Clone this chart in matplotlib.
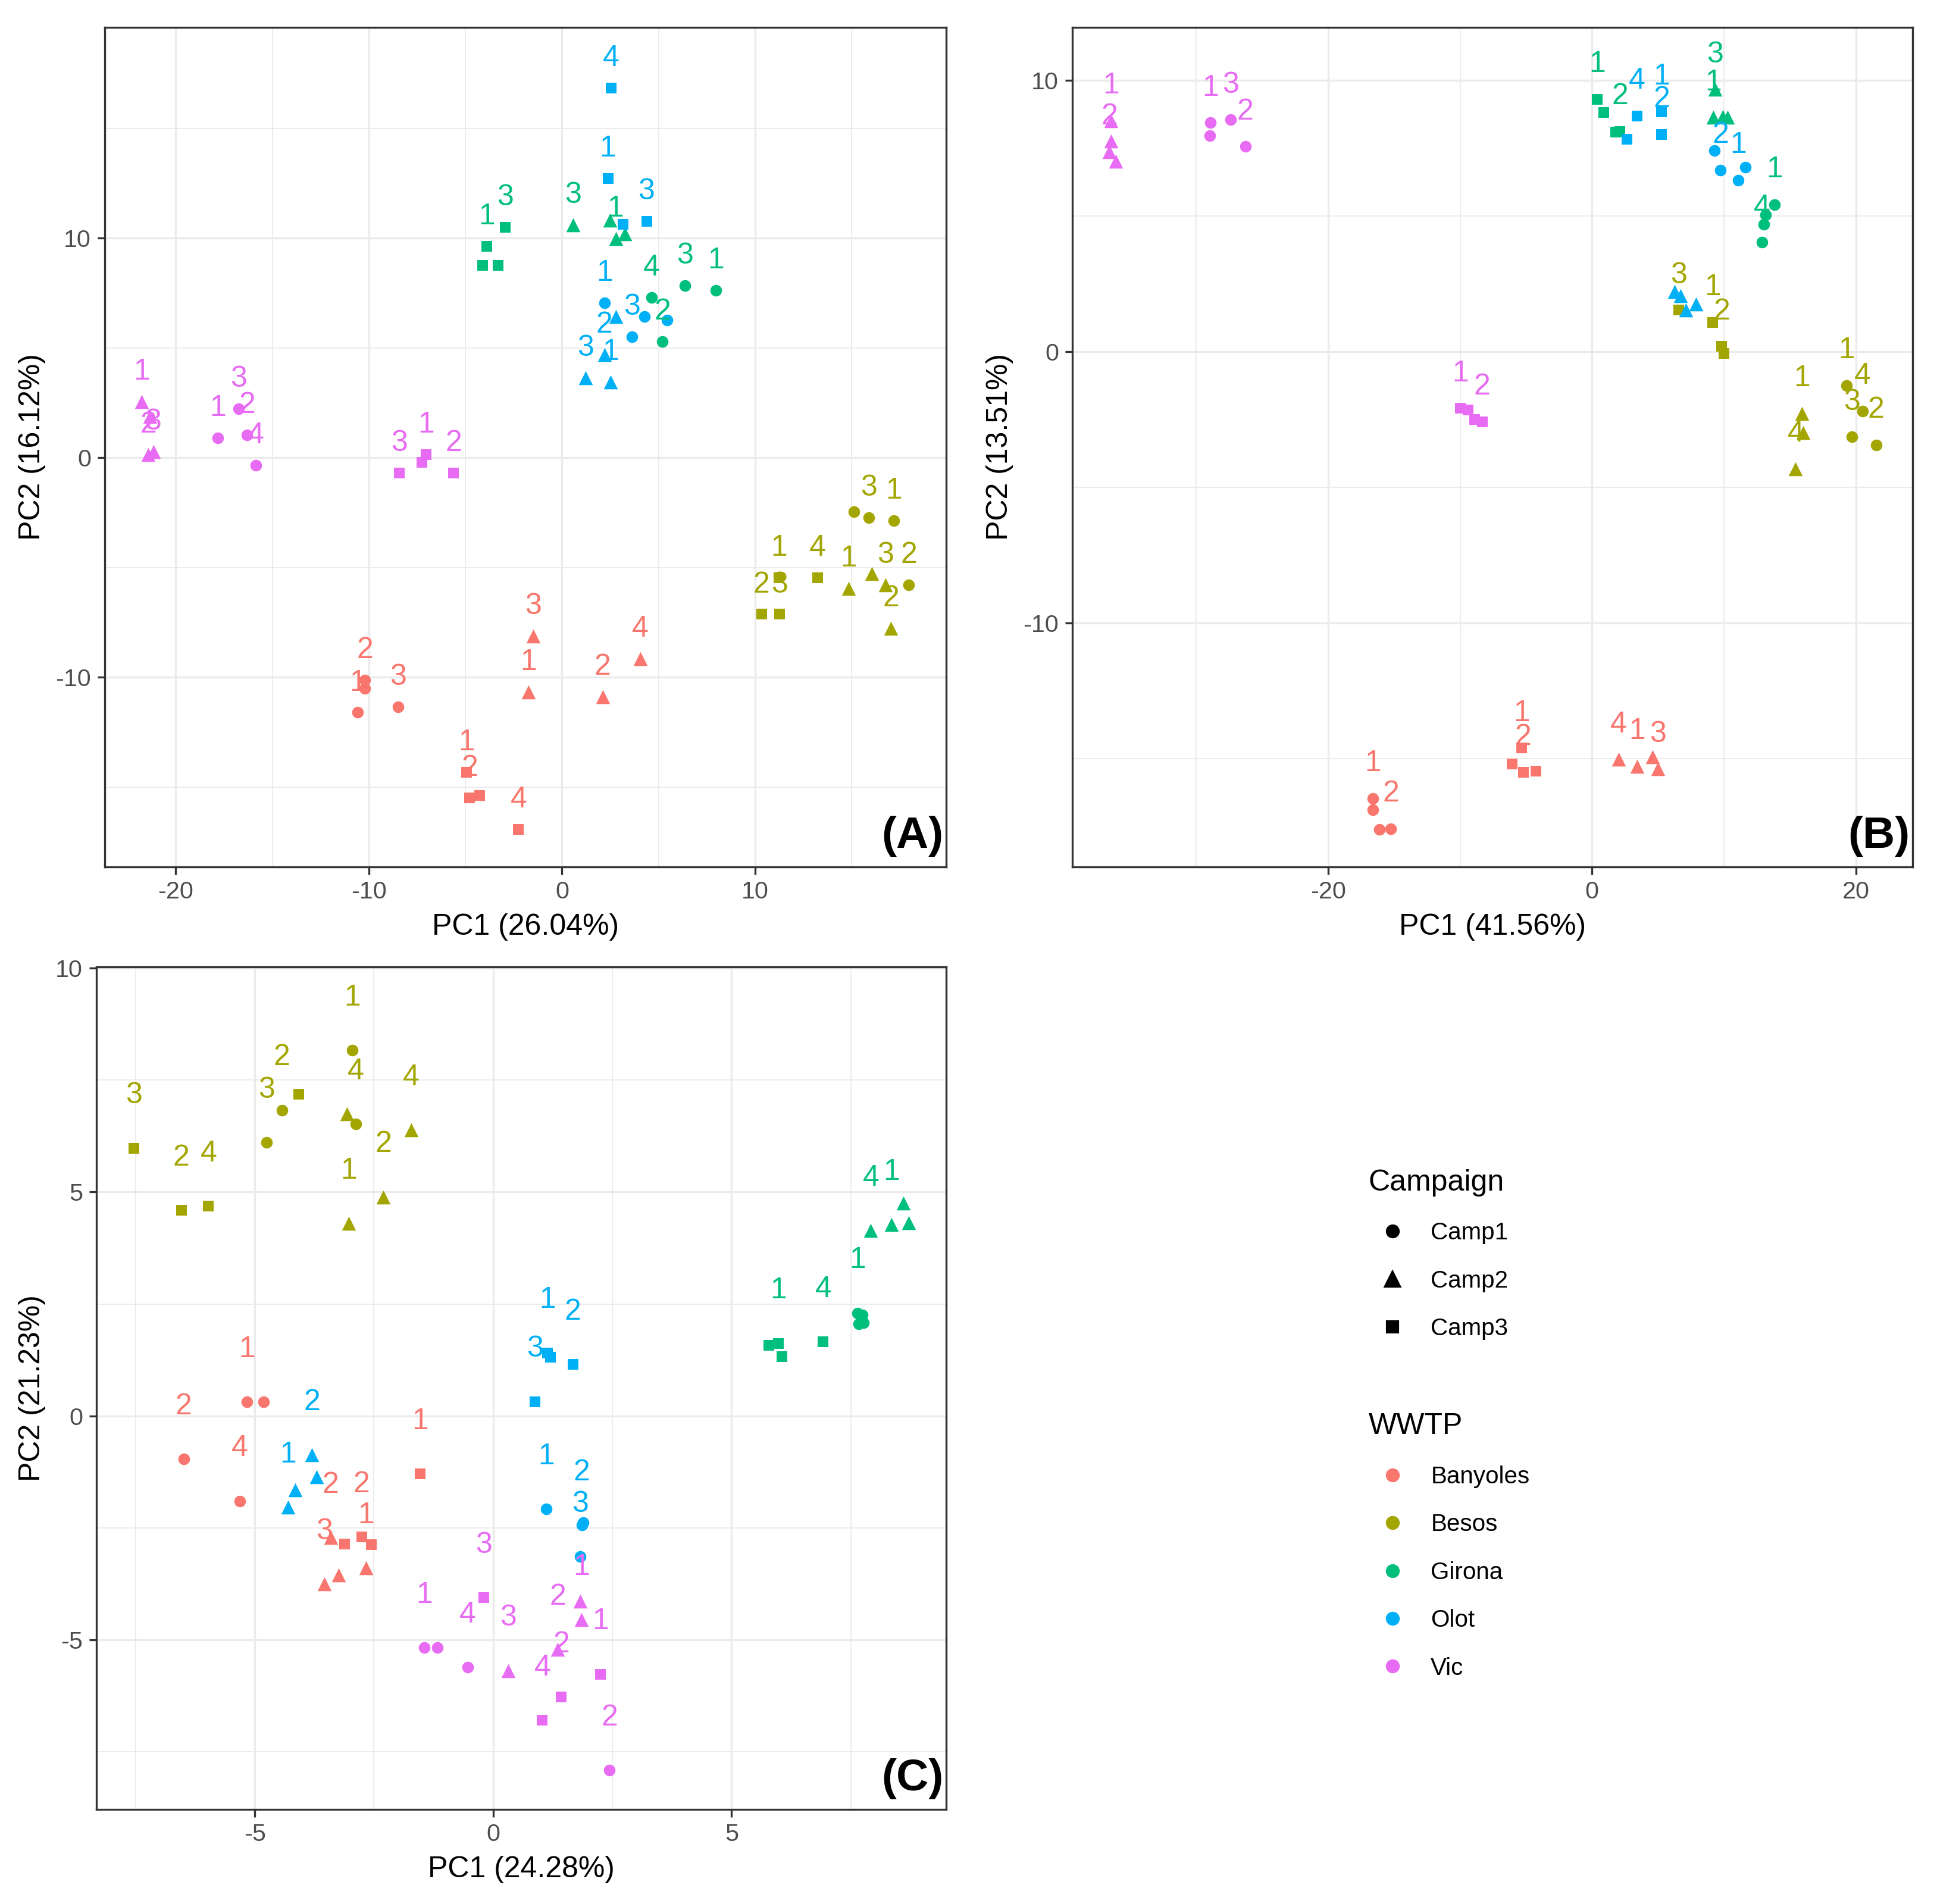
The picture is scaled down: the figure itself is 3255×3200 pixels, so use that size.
import numpy as np
import matplotlib.pyplot as plt
from matplotlib.lines import Line2D

plt.rcParams['font.family'] = ['Liberation Sans', 'DejaVu Sans']
plt.rcParams['axes.unicode_minus'] = False

sites = ['Banyoles', 'Besos', 'Girona', 'Olot', 'Vic']
site_colors = ['#F8766D', '#A3A500', '#00BF7D', '#00B0F6', '#E76BF3']
campaigns = ['Camp1', 'Camp2', 'Camp3']
camp_markers = ['o', '^', 's']

# ---------------- panel A ----------------
a_site = ['Banyoles'] * 12 + ['Besos'] * 12 + ['Girona'] * 12 + ['Olot'] * 12 + ['Vic'] * 12
a_camp = [1, 1, 1, 1, 2, 2, 2, 2, 3, 3, 3, 3,
          1, 1, 1, 1, 2, 2, 2, 2, 3, 3, 3, 3,
          1, 1, 1, 1, 2, 2, 2, 2, 3, 3, 3, 3,
          1, 1, 1, 1, 2, 2, 2, 2, 3, 3, 3, 3,
          1, 1, 1, 1, 2, 2, 2, 2, 3, 3, 3, 3]
a_x = [-10.21, -10.21, -10.58, -8.50, -1.48, -1.74, 2.11, 4.05, -4.94, -4.79, -4.28, -2.25,
       15.12, 15.89, 17.18, 17.97, 16.03, 14.84, 16.75, 17.03, 13.24, 11.24, 10.33, 11.27,
       4.65, 6.38, 7.96, 5.21, 0.57, 2.48, 2.78, 3.26, -3.90, -2.94, -4.11, -3.31,
       2.20, 4.26, 3.63, 5.44, 2.78, 2.20, 1.22, 2.52, 2.55, 2.38, 3.17, 4.38,
       -17.83, -16.74, -16.32, -15.85, -21.76, -21.34, -21.42, -21.17, -8.43, -7.26, -7.04, -5.62]
a_y = [-10.12, -10.51, -11.60, -11.34, -8.11, -10.67, -10.87, -9.15, -14.32, -15.48, -15.37, -16.93,
       -2.47, -2.72, -2.86, -5.78, -5.28, -5.96, -5.78, -7.76, -5.47, -5.47, -7.13, -7.13,
       7.30, 7.84, 7.61, 5.29, 10.59, 10.81, 9.98, 10.19, 9.63, 10.48, 8.77, 8.77,
       7.05, 6.43, 5.50, 6.27, 6.43, 4.69, 3.63, 3.44, 16.84, 12.71, 10.62, 10.77,
       0.90, 2.22, 1.04, -0.35, 2.56, 1.87, 0.14, 0.28, -0.69, -0.21, 0.14, -0.69]
a_lab = ['2', '', '1', '3', '3', '1', '2', '4', '1', '2', '', '4',
         '', '3', '1', '2', '', '1', '3', '2', '4', '1', '2', '3',
         '4', '3', '1', '2', '3', '', '1', '', '1', '3', '', '',
         '1', '', '3', '', '', '2', '3', '1', '4', '1', '', '3',
         '1', '3', '2', '4', '1', '', '2', '3', '3', '', '1', '2']

# ---------------- panel B ----------------
b_site = ['Banyoles'] * 12 + ['Besos'] * 11 + ['Girona'] * 12 + ['Olot'] * 12 + ['Vic'] * 12
b_camp = [1, 1, 1, 1, 2, 2, 2, 2, 3, 3, 3, 3,
          1, 1, 1, 1, 2, 2, 2, 3, 3, 3, 3,
          1, 1, 1, 1, 2, 2, 2, 2, 3, 3, 3, 3,
          1, 1, 1, 1, 2, 2, 2, 2, 3, 3, 3, 3,
          1, 1, 1, 1, 2, 2, 2, 2, 3, 3, 3, 3]
b_x = [-16.63, -16.63, -16.13, -15.25, 2.00, 3.42, 4.58, 5.00, -5.33, -6.04, -5.21, -4.25,
       19.31, 20.52, 19.68, 21.54, 15.90, 16.00, 15.43, 6.57, 9.16, 9.83, 10.00,
       13.85, 13.14, 13.03, 12.90, 9.34, 9.19, 9.92, 10.28, 0.38, 0.87, 1.77, 2.10,
       9.29, 9.74, 11.09, 11.64, 6.24, 6.71, 7.11, 7.89, 3.40, 5.27, 5.27, 2.64,
       -28.92, -29.00, -27.39, -26.28, -36.46, -36.45, -36.58, -36.11, -10.00, -9.38, -8.88, -8.33]
b_y = [-16.47, -16.89, -17.61, -17.59, -15.04, -15.29, -14.95, -15.39, -14.62, -15.21, -15.51, -15.48,
       -1.25, -2.20, -3.15, -3.45, -2.29, -2.99, -4.32, 1.52, 1.07, 0.18, -0.08,
       5.42, 5.03, 4.68, 4.02, 9.66, 8.63, 8.66, 8.63, 9.29, 8.81, 8.09, 8.11,
       7.40, 6.68, 6.31, 6.79, 2.21, 2.05, 1.52, 1.75, 8.68, 8.83, 8.00, 7.82,
       8.43, 7.95, 8.54, 7.55, 8.51, 7.75, 7.36, 7.00, -2.10, -2.15, -2.50, -2.59]
b_lab = ['1', '', '', '2', '4', '1', '', '3', '1', '', '2', '',
         '1', '4', '3', '2', '1', '', '4', '3', '1', '2', '',
         '1', '', '', '4', '3', '1', '', '', '1', '', '', '2',
         '', '2', '1', '', '', '', '', '', '4', '1', '2', '',
         '1', '', '3', '2', '1', '', '2', '', '1', '', '', '2']

# ---------------- panel C ----------------
c_site = ['Banyoles'] * 12 + ['Besos'] * 12 + ['Girona'] * 12 + ['Olot'] * 12 + ['Vic'] * 12
c_camp = a_camp
c_x = [-5.16, -4.82, -6.49, -5.31, -3.41, -3.54, -3.24, -2.67, -3.12, -2.76, -2.55, -1.53,
       -4.43, -4.75, -2.95, -2.88, -3.07, -1.72, -2.30, -3.03, -7.53, -6.54, -5.97, -4.08,
       7.64, 7.74, 7.66, 7.76, 8.60, 7.92, 8.35, 8.71, 5.78, 5.98, 6.05, 6.92,
       1.11, 1.86, 1.89, 1.83, -3.80, -3.70, -4.15, -4.30, 1.14, 1.20, 0.88, 1.67,
       -1.44, -1.17, -0.54, 2.44, 0.32, 1.83, 1.85, 1.35, -0.20, 1.03, 1.43, 2.25]
c_y = [0.31, 0.31, -0.96, -1.90, -2.72, -3.75, -3.56, -3.40, -2.86, -2.70, -2.88, -1.30,
       6.83, 6.11, 8.17, 6.52, 6.74, 6.39, 4.89, 4.30, 5.98, 4.59, 4.68, 7.18,
       2.30, 2.26, 2.05, 2.08, 4.75, 4.14, 4.27, 4.32, 1.57, 1.62, 1.32, 1.65,
       -2.08, -2.44, -2.38, -3.14, -0.87, -1.36, -1.65, -2.04, 1.41, 1.31, 0.32, 1.15,
       -5.18, -5.18, -5.62, -7.91, -5.69, -4.14, -4.55, -5.22, -4.06, -6.80, -6.28, -5.77]
c_lab = ['1', '', '2', '4', '2', '3', '', '1', '', '2', '', '1',
         '2', '3', '1', '4', '', '4', '2', '1', '3', '2', '4', '',
         '1', '', '', '', '', '4', '1', '', '', '1', '', '4',
         '1', '2', '', '3', '2', '', '', '1', '1', '', '3', '2',
         '1', '', '4', '2', '3', '', '1', '2', '3', '4', '2', '1']


def pca_panel(ax, xs, ys, site, camp, labs, xlim, ylim, xmaj, xmin, ymaj, ymin,
              xlabel, ylabel, tag):
    xs = np.array(xs)
    ys = np.array(ys)
    site = np.array(site)
    camp = np.array(camp)
    msize = {'o': 22, '^': 32, 's': 19}
    for s, col in zip(sites, site_colors):
        for c, m in zip([1, 2, 3], camp_markers):
            sel = (site == s) & (camp == c)
            ax.scatter(xs[sel], ys[sel], marker=m, s=msize[m], color=col,
                       linewidths=0, zorder=3)
    # sample numbers sit just above each point (like nudge_y = 1)
    for x, y, s, lab in zip(xs, ys, site, labs):
        if lab:
            ax.text(x, y + 1.0, lab, color=site_colors[sites.index(s)],
                    fontsize=12, ha='center', va='baseline', zorder=4)
    ax.set_xlim(*xlim)
    ax.set_ylim(*ylim)
    ax.set_xticks(xmaj)
    ax.set_xticks(xmin, minor=True)
    ax.set_yticks(ymaj)
    ax.set_yticks(ymin, minor=True)
    ax.grid(which='major', color='#EBEBEB', linewidth=0.8)
    ax.grid(which='minor', color='#EBEBEB', linewidth=0.45)
    ax.set_axisbelow(True)
    ax.tick_params(which='major', length=3, width=0.8, color='#333333',
                   labelsize=9.9, labelcolor='#4D4D4D', pad=2.5)
    ax.tick_params(which='minor', length=0)
    for sp in ax.spines.values():
        sp.set_color('#333333')
        sp.set_linewidth(0.8)
    ax.set_xlabel(xlabel, fontsize=12, labelpad=4)
    ax.set_ylabel(ylabel, fontsize=12, labelpad=4)
    ax.text(0.997, 0.012, tag, transform=ax.transAxes, ha='right', va='bottom',
            fontsize=18, fontweight='bold', zorder=5)


fig = plt.figure(figsize=(3255 / 300, 3200 / 300), dpi=300)
ax_a = fig.add_axes([0.0541, 0.5447, 0.4344, 0.441])
ax_b = fig.add_axes([0.5536, 0.5447, 0.4338, 0.441])
ax_c = fig.add_axes([0.0498, 0.0497, 0.4387, 0.4425])

pca_panel(ax_a, a_x, a_y, a_site, a_camp, a_lab, (-23.68, 19.9), (-18.63, 19.6),
          [-20, -10, 0, 10], [-15, -5, 5, 15], [-10, 0, 10], [-15, -5, 5, 15],
          'PC1 (26.04%)', 'PC2 (16.12%)', '(A)')
pca_panel(ax_b, b_x, b_y, b_site, b_camp, b_lab, (-39.4, 24.3), (-19.0, 11.95),
          [-20, 0, 20], [-30, -10, 10], [-10, 0, 10], [-15, -5, 5],
          'PC1 (41.56%)', 'PC2 (13.51%)', '(B)')
pca_panel(ax_c, c_x, c_y, c_site, c_camp, c_lab, (-8.32, 9.50), (-8.79, 10.03),
          [-5, 0, 5], [-7.5, -2.5, 2.5, 7.5], [-5, 0, 5, 10], [-7.5, -2.5, 2.5, 7.5],
          'PC1 (24.28%)', 'PC2 (21.23%)', '(C)')

# legends
camp_handles = [Line2D([], [], linestyle='', marker=m, color='black',
                       markersize={'o': 4.6, '^': 5.6, 's': 4.3}[m]) for m in camp_markers]
site_handles = [Line2D([], [], linestyle='', marker='o', color=c, markersize=4.6)
                for c in site_colors]
leg_kw = dict(loc='upper left', frameon=False, fontsize=9.7, title_fontsize=12,
              alignment='left', handlelength=2.0, handletextpad=0.58,
              labelspacing=1.05, borderpad=0, borderaxespad=0)
fig.legend(camp_handles, campaigns, title='Campaign',
           bbox_to_anchor=(0.7066, 0.386), **leg_kw)
fig.legend(site_handles, sites, title='WWTP',
           bbox_to_anchor=(0.7066, 0.258), **leg_kw)

fig.savefig('out.png', dpi=300)
